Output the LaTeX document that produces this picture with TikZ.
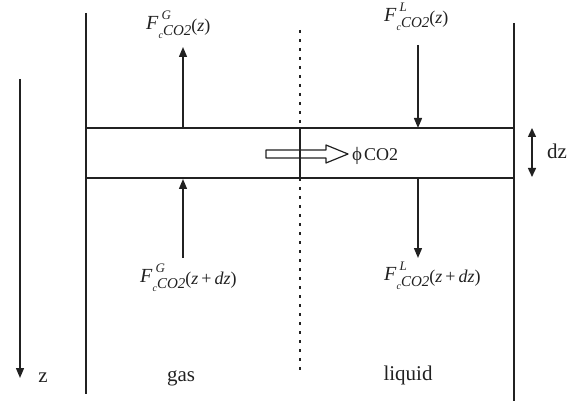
\documentclass[tikz,border=0pt]{standalone}
\usepackage{fontspec}
\setmainfont{Liberation Serif}
\usetikzlibrary{arrows.meta}
\definecolor{ink}{gray}{0.13}
\newcommand{\fluxlabel}[2]{%
\fontsize{20}{20}\selectfont\textit{F}%
\rlap{\hspace{3pt}\raisebox{10pt}{\fontsize{13}{13}\selectfont\textit{#1}}}%
\raisebox{-9pt}{\fontsize{10}{10}\selectfont\textit{c}}%
\raisebox{-6pt}{\fontsize{15}{15}\selectfont\textit{CO2}}%
\raisebox{-2pt}{\fontsize{18}{18}\selectfont(#2)}}
\tikzset{
  wall/.style={draw=ink,line width=2pt},
  bandline/.style={draw=ink,line width=1.4pt},
  flow/.style={draw=ink,line width=1.4pt,-{Triangle[length=10pt,width=8pt]}},
  dzarrow/.style={draw=ink,line width=1.4pt,{Triangle[length=9pt,width=8pt]}-{Triangle[length=9pt,width=8pt]}},
  dotline/.style={draw=ink,line width=2.2pt,dash pattern=on 3pt off 6pt},
  lbl/.style={inner sep=0pt,anchor=base west,text=ink},
  plain/.style={inner sep=0pt,anchor=base,text=ink,font=\fontsize{21}{21}\selectfont},
  hollow/.style={draw=ink,line width=1.2pt,fill=white,line join=round}
}
\begin{document}
\begin{tikzpicture}[x=1pt,y=-1pt]
\useasboundingbox (0,0) rectangle (578,406);
% walls
\coordinate (LwT) at (86,13);
\coordinate (LwB) at (86,394);
\coordinate (RwT) at (514,23);
\coordinate (RwB) at (514,401);
\draw[wall] (LwT) -- (LwB);
\draw[wall] (RwT) -- (RwB);
% band
\coordinate (bTL) at (86,128);
\coordinate (bTR) at (514,128);
\coordinate (bBL) at (86,178);
\coordinate (bBR) at (514,178);
\draw[bandline] (bTL) -- (bTR);
\draw[bandline] (bBL) -- (bBR);
% interface
\coordinate (iT) at (300,30);
\coordinate (iBT) at (300,128);
\coordinate (iBB) at (300,178);
\coordinate (iB) at (300,374);
\draw[dotline] (iT) -- (iBT);
\draw[dotline] (iBB) -- (iB);
% hollow transfer arrow
\draw[hollow] (266,150) -- (326,150) -- (326,145) -- (348,154) -- (326,163) -- (326,158) -- (266,158) -- cycle;
\draw[bandline] (iBT) -- (iBB);
\node[plain,anchor=base west,font=\fontsize{19}{19}\selectfont] (phi) at (352,161) {ϕ\kern2pt{\fontsize{18}{18}\selectfont CO2}};
% z axis
\coordinate (zT) at (20,79);
\coordinate (zB) at (20,378);
\draw[flow] (zT) -- (zB);
\node[plain] (zlab) at (43,382) {z};
% phase labels
\node[plain] (gas) at (181,381) {gas};
\node[plain] (liquid) at (408,380) {liquid};
% dz
\coordinate (dzT) at (532,128);
\coordinate (dzB) at (532,177);
\draw[dzarrow] (dzT) -- (dzB);
\node[plain] (dzlab) at (557,159) {dz};
% flux arrows
\coordinate (gTtip) at (183,47);
\coordinate (gTbase) at (183,128);
\draw[flow] (gTbase) -- (gTtip);
\coordinate (lTstart) at (418,45);
\coordinate (lTtip) at (418,128);
\draw[flow] (lTstart) -- (lTtip);
\coordinate (gBstart) at (183,258);
\coordinate (gBtip) at (183,179);
\draw[flow] (gBstart) -- (gBtip);
\coordinate (lBstart) at (418,178);
\coordinate (lBtip) at (418,258);
\draw[flow] (lBstart) -- (lBtip);
% flux labels
\node[lbl] (FgT) at (146,30) {\fluxlabel{G}{\textit{z}}};
\node[lbl] (FlT) at (384,22) {\fluxlabel{L}{\textit{z}}};
\node[lbl] (FgB) at (140,282) {\fluxlabel{G}{\textit{z}\,+\,\textit{dz}}};
\node[lbl] (FlB) at (384,280) {\fluxlabel{L}{\textit{z}\,+\,\textit{dz}}};
\end{tikzpicture}
\end{document}
